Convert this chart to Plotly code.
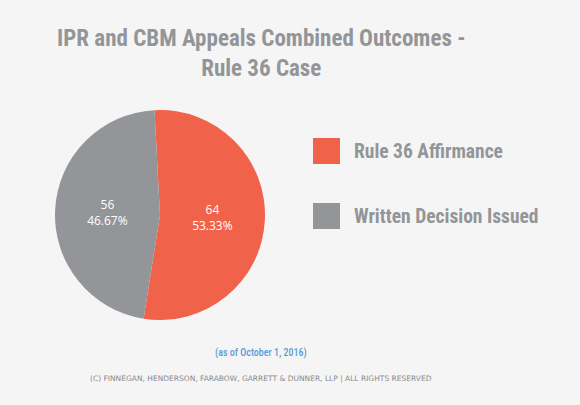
import plotly.graph_objects as go

# data
labels = ["Rule 36 Affirmance", "Written Decision Issued"]
values = [64, 56]
colors = ["#f1624b", "#939598"]

title_text = "IPR and CBM Appeals Combined Outcomes -<br>Rule 36 Case"
date_note = "(as of October 1, 2016)"
copyright_note = "(C) FINNEGAN, HENDERSON, FARABOW, GARRETT &amp; DUNNER, LLP | ALL RIGHTS RESERVED"

W, H = 580, 405
narrow = "Roboto Condensed, Open Sans Condensed, sans-serif"
cx = 261 / W  # text block is centred a bit left of the page middle

fig = go.Figure()
fig.add_trace(go.Pie(labels=labels, values=values, marker=dict(colors=colors, line=dict(width=0)),
                     sort=False, direction="clockwise", rotation=-3,
                     texttemplate="%{value}<br>%{percent:.2%}", textposition="inside",
                     insidetextorientation="horizontal",
                     textfont=dict(family="Open Sans, sans-serif", size=12, color="white"),
                     domain=dict(x=[55 / W, 265 / W], y=[1 - 322 / H, 1 - 108 / H]),
                     showlegend=False, hoverinfo="label+value+percent"))

# hand-built legend (big squares)
for i, (lab, col) in enumerate(zip(labels, colors)):
    y0 = 138 + i * 65
    fig.add_shape(type="rect", xref="paper", yref="paper",
                  x0=313 / W, x1=340 / W, y0=1 - (y0 + 26) / H, y1=1 - y0 / H,
                  fillcolor=col, line=dict(width=0))
    fig.add_annotation(x=352 / W, y=1 - (y0 + 13) / H, xref="paper", yref="paper",
                       text="<b>" + lab + "</b>", showarrow=False, xanchor="left", yanchor="middle",
                       font=dict(family=narrow, size=19.5, color="#939598"))

fig.add_annotation(x=cx, y=1 - 54 / H, xref="paper", yref="paper", text="<b>" + title_text + "</b>",
                   showarrow=False, xanchor="center", yanchor="middle",
                   font=dict(family=narrow, size=23, color="#939598"))
fig.add_annotation(x=cx, y=1 - 353 / H, xref="paper", yref="paper", text=date_note,
                   showarrow=False, xanchor="center", yanchor="middle",
                   font=dict(family=narrow, size=10, color="#5b9bd5", weight=500))
fig.add_annotation(x=cx, y=1 - 378 / H, xref="paper", yref="paper", text=copyright_note,
                   showarrow=False, xanchor="center", yanchor="middle",
                   font=dict(family="DejaVu Sans, sans-serif", size=7.5, color="#8a8a8a"))

fig.update_layout(width=W, height=H, margin=dict(l=0, r=0, t=0, b=0),
                  paper_bgcolor="#f5f5f5", plot_bgcolor="#f5f5f5")

fig.write_html("out.html", config={"displayModeBar": False},
               post_script="document.body.style.margin='0'")
